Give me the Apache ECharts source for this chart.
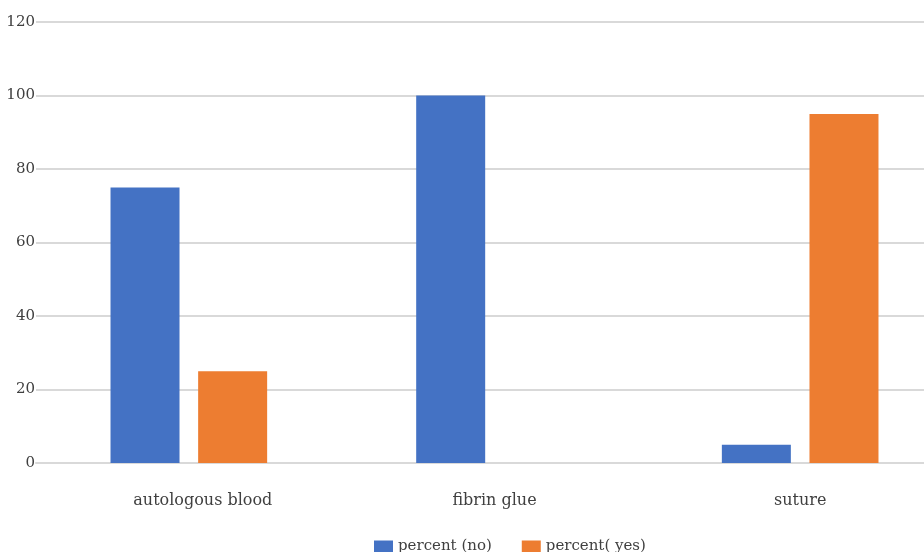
<!DOCTYPE html>
<html><head><meta charset="utf-8">
<script src="https://cdn.jsdelivr.net/npm/echarts@6/dist/echarts.min.js"></script>
<style>html,body{margin:0;padding:0;background:#fff;overflow:hidden;width:924px;height:552px}#c{width:953px;height:552px}</style>
</head><body><div id="c"></div>
<script>
const categories = ['autologous blood', 'fibrin glue', 'suture'];
const percentNo = [75, 100, 5];
const percentYes = [25, 0, 95];
const yTicks = [0, 20, 40, 60, 80, 100, 120];

const chart = echarts.init(document.getElementById('c'));
const font = 'DejaVu Serif';
chart.setOption({
  animation: false,
  textStyle: { fontFamily: font },
  grid: { left: 36, right: 0, top: 22, height: 441, containLabel: false },
  legend: {
    left: 369, top: 534,
    itemWidth: 19, itemHeight: 12, itemGap: 30,
    icon: 'rect',
    textStyle: { fontFamily: font, fontSize: 15, color: '#404040' },
    data: ['percent (no)', 'percent( yes)']
  },
  xAxis: {
    type: 'category', data: categories,
    axisLine: { show: true, lineStyle: { color: '#d9d9d9', width: 2 } },
    axisTick: { show: false },
    axisLabel: {
      margin: 30, fontFamily: font, fontSize: 16, color: '#404040',
      formatter: (v, i) => i === 0 ? '{s|' + v + '}' : v,
      rich: { s: { padding: [0, 0, 0, 28], fontFamily: font, fontSize: 16, color: '#404040' } }
    }
  },
  yAxis: {
    type: 'value', min: yTicks[0], max: yTicks[yTicks.length - 1], interval: 20,
    axisLine: { show: false }, axisTick: { show: false },
    axisLabel: { margin: 1, fontFamily: font, fontSize: 15, color: '#404040' },
    splitLine: { lineStyle: { color: '#d9d9d9', width: 2 } }
  },
  series: [
    { name: 'percent (no)', type: 'bar', data: percentNo, barWidth: 69, barGap: '27%',
      itemStyle: { color: '#4472c4' } },
    { name: 'percent( yes)', type: 'bar', data: percentYes, barWidth: 69,
      itemStyle: { color: '#ed7d31' } }
  ]
});
</script></body></html>
